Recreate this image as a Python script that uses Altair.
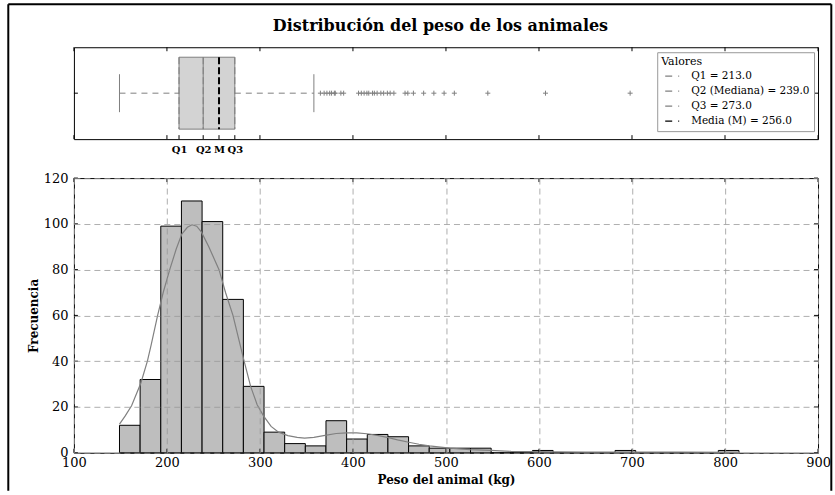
import altair as alt
import pandas as pd

TITLE = "Distribución del peso de los animales"
FONT = "DejaVu Serif"

# ---------------- data ----------------
bin_lo = [149.0, 171.2, 193.4, 215.6, 237.8, 260.0, 282.2, 304.4, 326.6, 348.8,
          371.0, 393.2, 415.4, 437.6, 459.8, 482.0, 504.2, 526.4, 548.6, 570.8,
          593.0, 615.2, 637.4, 659.6, 681.8, 704.0, 726.2, 748.4, 770.6, 792.8]
bin_hi = [171.2, 193.4, 215.6, 237.8, 260.0, 282.2, 304.4, 326.6, 348.8, 371.0,
          393.2, 415.4, 437.6, 459.8, 482.0, 504.2, 526.4, 548.6, 570.8, 593.0,
          615.2, 637.4, 659.6, 681.8, 704.0, 726.2, 748.4, 770.6, 792.8, 815.0]
counts = [12, 32, 99, 110, 101, 67, 29, 9, 4, 3,
          14, 6, 8, 7, 3, 2, 2, 2, 0, 0,
          1, 0, 0, 0, 1, 0, 0, 0, 0, 1]

kde_x = [149, 155, 162, 172, 179, 183, 190, 196, 203, 210, 216, 222, 227, 232, 237,
         245, 256, 263, 271, 277, 283, 290, 297, 304, 312, 320, 330, 340, 348, 358,
         370, 382, 393, 404, 415, 426, 437, 448, 460, 471, 482, 504, 526, 548, 570,
         593, 615, 650, 700, 750, 815]
kde_y = [12.5, 16, 20.5, 30.5, 40, 47, 60, 70, 80, 89, 95.5, 98.5, 99.6, 99, 96.5,
         90, 80, 70, 60, 50, 40, 29, 21, 16, 11.5, 9, 7.5, 6.7, 6.4, 6.7,
         7.6, 8.4, 8.7, 8.7, 8.3, 7.6, 6.7, 5.6, 4.6, 3.7, 3.0, 2.0, 1.4, 1.0, 0.6,
         0.45, 0.35, 0.3, 0.3, 0.25, 0.2]

outliers = [365, 369, 372, 375, 377, 380, 381, 387, 390, 406, 409, 412, 415, 417,
            421, 423, 426, 430, 433, 437, 440, 444, 456, 459, 465, 476, 487, 498,
            509, 545, 607, 698, 812]

q1, q2, q3, mean_v = 213.0, 239.0, 273.0, 256.0
whisker_lo, whisker_hi = 149.0, 358.0

stat_names = ["Q1 = 213.0", "Q2 (Mediana) = 239.0", "Q3 = 273.0", "Media (M) = 256.0"]
stat_values = [q1, q2, q3, mean_v]
stat_colors = ["gray", "gray", "gray", "black"]

q_tick_labels = ["Q1", "Q2", "M", "Q3"]
q_tick_values = [213, 239, 256, 273]

x_ticks = [100, 200, 300, 400, 500, 600, 700, 800, 900]
y_ticks = [0, 20, 40, 60, 80, 100, 120]

# ---------------- tables ----------------
hist_df = pd.DataFrame({"lo": bin_lo, "hi": bin_hi, "count": counts})
kde_df = pd.DataFrame({"x": kde_x, "y": kde_y})
out_df = pd.DataFrame({"v": outliers})
stats_df = pd.DataFrame({"name": stat_names, "v": stat_values})
whisk_df = pd.DataFrame({"a": [whisker_lo, q3], "b": [q1, whisker_hi]})
caps_df = pd.DataFrame({"v": [whisker_lo, whisker_hi]})
box_df = pd.DataFrame({"q1": [q1], "q2": [q2], "q3": [q3]})
xt_df = pd.DataFrame({"t": x_ticks})
qt_df = pd.DataFrame({"t": q_tick_values})
yt_df = pd.DataFrame({"t": y_ticks})
one = pd.DataFrame({"k": [0]})

W, HB, HH = 745, 92, 275
BOX_TOP, BOX_BOT, MID, CAP_TOP, CAP_BOT = 10, 82, 46, 27, 65

xs = alt.Scale(domain=[100, 900], nice=False, zero=False)
ys = alt.Scale(domain=[0, 120], nice=False, zero=False)

label_expr = " : ".join(
    f"datum.value == {v} ? '{l}'" for v, l in zip(q_tick_values[:-1], q_tick_labels[:-1])
) + f" : '{q_tick_labels[-1]}'"

box_axis = alt.Axis(values=q_tick_values, labelExpr=label_expr, title=None, grid=False,
                    ticks=False, domain=False, labelFont=FONT, labelFontSize=10,
                    labelFontWeight="bold", labelColor="black", labelPadding=5,
                    labelOverlap=False, labelFlush=False)


def BX(field):
    return alt.X(field, type="quantitative", scale=xs, axis=box_axis)


# ---------------- box panel ----------------
frame_left = alt.Chart(one).mark_rule(color="black", strokeWidth=2).encode(
    x=alt.value(-65.7), y=alt.value(-43), y2=alt.value(444))
frame_right = alt.Chart(one).mark_rule(color="black", strokeWidth=2).encode(
    x=alt.value(758.3), y=alt.value(-43), y2=alt.value(444))
frame_top = alt.Chart(one).mark_rule(color="black", strokeWidth=2).encode(
    x=alt.value(-65.7), x2=alt.value(758.3), y=alt.value(-43))
title_txt = alt.Chart(one).mark_text(text=TITLE, font=FONT, fontSize=16, fontWeight="bold",
                                     color="black", baseline="alphabetic").encode(
    x=alt.value(367), y=alt.value(-16))

whiskers = alt.Chart(whisk_df).mark_rule(color="gray", strokeDash=[6, 5], strokeWidth=1).encode(
    x=BX("a"), x2="b", y=alt.value(MID))
caps = alt.Chart(caps_df).mark_rule(color="gray", strokeWidth=1).encode(
    x=BX("v"), y=alt.value(CAP_TOP), y2=alt.value(CAP_BOT))
box = alt.Chart(box_df).mark_rect(fill="#d3d3d3", stroke="gray", strokeWidth=1).encode(
    x=BX("q1"), x2="q3", y=alt.value(BOX_TOP), y2=alt.value(BOX_BOT))
median = alt.Chart(box_df).mark_rule(color="gray", strokeWidth=1).encode(
    x=BX("q2"), y=alt.value(BOX_TOP), y2=alt.value(BOX_BOT))
qlines = alt.Chart(stats_df).mark_rule(strokeDash=[7, 3]).encode(
    x=BX("v"), y=alt.value(BOX_TOP), y2=alt.value(BOX_BOT),
    color=alt.Color("name:N", scale=alt.Scale(domain=stat_names, range=stat_colors),
                    legend=alt.Legend(
                        title="Valores", orient="top-right", offset=4.5, fillColor="white",
                        strokeColor="#999", padding=4, cornerRadius=0, symbolType="stroke",
                        symbolSize=196, symbolStrokeWidth=1.3, symbolDash=[7, 6],
                        symbolOffset=3, labelFont=FONT, labelFontSize=10.5,
                        labelColor="black", titleFont=FONT, titleFontSize=11,
                        titleFontWeight="normal", titleColor="black", titlePadding=1,
                        rowPadding=1, labelOffset=11)),
    strokeWidth=alt.condition(alt.datum.name == stat_names[3], alt.value(2), alt.value(1)))
out_pts = alt.Chart(out_df).mark_point(shape="M-1,0H1M0,-1V1", size=25, filled=False,
                                       stroke="gray", strokeWidth=1, opacity=1).encode(
    x=BX("v"), y=alt.value(MID))
btop = alt.Chart(xt_df).mark_rule(color="black").encode(x=BX("t"), y=alt.value(0), y2=alt.value(4))
bbot = alt.Chart(xt_df).mark_rule(color="black").encode(x=BX("t"), y=alt.value(HB - 4), y2=alt.value(HB))
bq = alt.Chart(qt_df).mark_rule(color="black").encode(x=BX("t"), y=alt.value(HB - 4), y2=alt.value(HB))
bl = alt.Chart(one).mark_rule(color="black").encode(x=alt.value(0), x2=alt.value(4), y=alt.value(MID))
br = alt.Chart(one).mark_rule(color="black").encode(x=alt.value(W - 4), x2=alt.value(W), y=alt.value(MID))

box_panel = alt.layer(frame_left, frame_right, frame_top, title_txt, whiskers, caps, box,
                      median, qlines, out_pts, btop, bbot, bq, bl, br).properties(width=W, height=HB)

# ---------------- histogram panel ----------------
hx_axis = alt.Axis(values=x_ticks, format="d", title="Peso del animal (kg)", grid=True,
                   gridDash=[6, 4], gridColor="#999", gridWidth=0.8, ticks=False, domain=False,
                   labelFont=FONT, labelFontSize=13, labelColor="black", labelPadding=4,
                   labelFlush=False, titleFont=FONT, titleFontSize=12, titleFontWeight="bold",
                   titleColor="black", titlePadding=5, zindex=1)
hy_axis = alt.Axis(values=y_ticks, format="d", title="Frecuencia", grid=True,
                   gridDash=[6, 4], gridColor="#999", gridWidth=0.8, ticks=False, domain=False,
                   labelFont=FONT, labelFontSize=13, labelColor="black", labelPadding=6,
                   labelFlush=False, titleFont=FONT, titleFontSize=12, titleFontWeight="bold",
                   titleColor="black", titlePadding=3, zindex=1)


def HX(field):
    return alt.X(field, type="quantitative", scale=xs, axis=hx_axis)


def HY(field):
    return alt.Y(field, type="quantitative", scale=ys, axis=hy_axis)


bars = alt.Chart(hist_df).mark_rect(fill="#bebebe", stroke="black", strokeWidth=1).encode(
    x=HX("lo"), x2="hi", y=HY("count"), y2=alt.datum(0))
kde = alt.Chart(kde_df).mark_line(color="gray", strokeWidth=1.2).encode(x=HX("x"), y=HY("y"))
hxt = alt.Chart(xt_df).mark_rule(color="black").encode(x=HX("t"), y=alt.value(0), y2=alt.value(4))
hxb = alt.Chart(xt_df).mark_rule(color="black").encode(x=HX("t"), y=alt.value(HH - 4), y2=alt.value(HH))
hyl = alt.Chart(yt_df).mark_rule(color="black").encode(y=HY("t"), x=alt.value(0), x2=alt.value(4))
hyr = alt.Chart(yt_df).mark_rule(color="black").encode(y=HY("t"), x=alt.value(W - 4), x2=alt.value(W))

hist_panel = alt.layer(bars, kde, hxt, hxb, hyl, hyr).properties(width=W, height=HH)

chart = alt.vconcat(box_panel, hist_panel, spacing=39, bounds="flush").properties(
    padding={"left": 6, "top": 2, "right": 2, "bottom": 0},
    background="white",
).configure_view(stroke="black", strokeWidth=1)

chart.save("out.html", embed_options={"renderer": "svg", "actions": False})
